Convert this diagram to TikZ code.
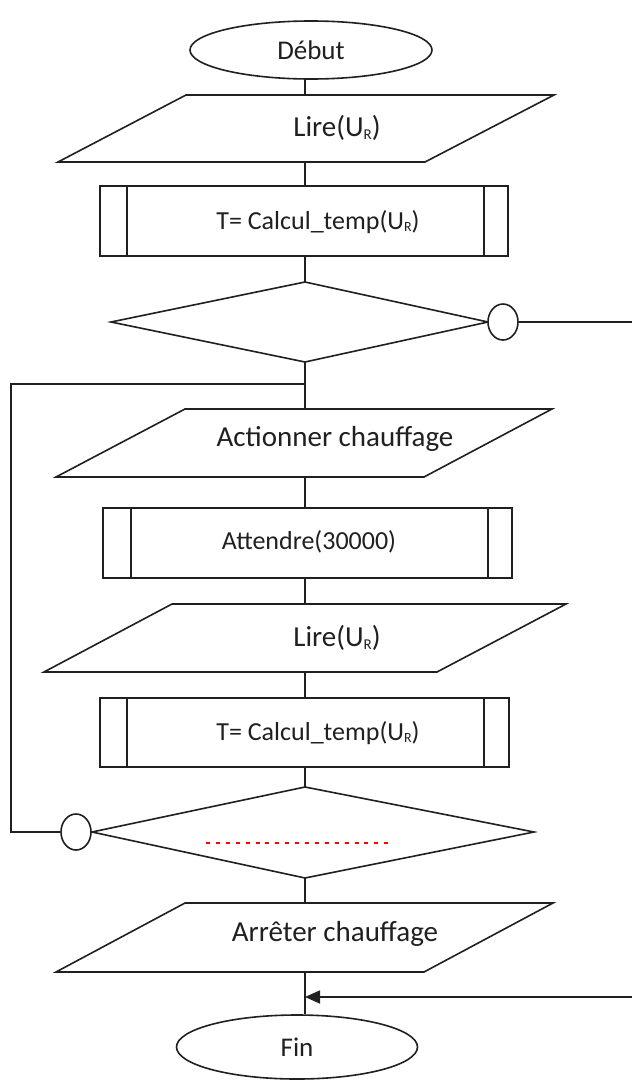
\documentclass[tikz,border=0pt]{standalone}
\usepackage{fontspec}
\setmainfont{Carlito}
\usetikzlibrary{arrows.meta,shapes.geometric,calc}
\definecolor{ink}{rgb}{0.13,0.12,0.12}
\newcommand\Rbig{\raisebox{-3pt}{\fontsize{15}{15}\selectfont R}}
\newcommand\Rmid{\raisebox{-2.5pt}{\fontsize{14}{14}\selectfont R}}
\begin{document}
\begin{tikzpicture}[x=1pt,y=-1pt,
  outline/.style={draw=ink,line width=1.6pt,line join=miter},
  conn/.style={draw=ink,line width=1.6pt},
  big/.style={font=\fontsize{29}{34}\selectfont,text=ink,inner sep=0pt},
  mid/.style={font=\fontsize{26}{31}\selectfont,text=ink,inner sep=0pt},
  term/.style={ellipse,draw=ink,line width=1.6pt,inner sep=0pt,font=\fontsize{27}{32}\selectfont,text=ink},
  subbox/.style={rectangle,draw=ink,line width=1.6pt,inner sep=0pt,minimum height=70pt},
  joint/.style={ellipse,draw=ink,line width=1.6pt,inner sep=0pt,minimum width=30pt,minimum height=36pt,fill=white}]
\fill[white] (0,0) rectangle (632,1082);
\useasboundingbox (0,0) rectangle (632,1082);

% --- Debut
\node[term,minimum width=242pt,minimum height=58pt] (debut) at (311,50) {Début};
\coordinate (s0) at (305,79);

% --- Lire 1
\coordinate (p1t) at (305,95);
\coordinate (p1b) at (305,162);
\draw[outline] (186,95) -- (554,95) -- (425,162) -- (58,162) -- cycle;
\node[big] (t1) at (337,128) {Lire(U\Rbig)};

% --- Calcul 1
\node[subbox,minimum width=408pt] (b1) at (304,221) {};
\draw[outline] ([xshift=28pt]b1.north west) -- ([xshift=28pt]b1.south west);
\draw[outline] ([xshift=-25pt]b1.north east) -- ([xshift=-25pt]b1.south east);
\node[mid] (t2) at (318,222) {T= Calcul\_temp(U\Rmid)};

% --- Decision 1
\coordinate (d1t) at (305,282);
\coordinate (d1l) at (111,322);
\coordinate (d1r) at (488,322);
\coordinate (d1b) at (305,362);
\draw[outline] (d1t) -- (d1r) -- (d1b) -- (d1l) -- cycle;
\node[joint] (c1) at (503,322) {};
\coordinate (e1) at (632,322);

% --- Actionner chauffage
\coordinate (j1) at (305,384);
\coordinate (lk) at (11,384);
\coordinate (p2t) at (305,409);
\coordinate (p2b) at (305,477);
\draw[outline] (185,409) -- (552,409) -- (424,477) -- (56,477) -- cycle;
\node[big] (t3) at (335,439) {Actionner chauffage};

% --- Attendre
\node[subbox,minimum width=409pt] (b2) at (307.5,543) {};
\draw[outline] ([xshift=29pt]b2.north west) -- ([xshift=29pt]b2.south west);
\draw[outline] ([xshift=-25pt]b2.north east) -- ([xshift=-25pt]b2.south east);
\node[mid] (t4) at (309,542) {Attendre(30000)};

% --- Lire 2
\coordinate (p3t) at (305,604);
\coordinate (p3b) at (305,672);
\draw[outline] (172,604) -- (566,604) -- (437,672) -- (44,672) -- cycle;
\node[big] (t5) at (337,638) {Lire(U\Rbig)};

% --- Calcul 2
\node[subbox,minimum width=409pt,minimum height=69pt] (b3) at (304.5,732.5) {};
\draw[outline] ([xshift=28pt]b3.north west) -- ([xshift=28pt]b3.south west);
\draw[outline] ([xshift=-26pt]b3.north east) -- ([xshift=-26pt]b3.south east);
\node[mid] (t6) at (318,733) {T= Calcul\_temp(U\Rmid)};

% --- Decision 2
\coordinate (d2t) at (305,787);
\coordinate (d2l) at (92,832);
\coordinate (d2r) at (534,832);
\coordinate (d2b) at (305,878);
\draw[outline] (d2t) -- (d2r) -- (d2b) -- (d2l) -- cycle;
\node[joint] (c2) at (76,832) {};
\coordinate (r1) at (206,843);
\coordinate (r2) at (391,843);
\draw[red,line width=2pt,dash pattern=on 4pt off 5.9pt] (r1) -- (r2);

% --- Arreter chauffage
\coordinate (p4t) at (305,903);
\coordinate (p4b) at (305,972);
\draw[outline] (185,903) -- (553,903) -- (424,972) -- (56,972) -- cycle;
\node[big] (t7) at (335,934) {Arrêter chauffage};

% --- Fin
\node[term,minimum width=241pt,minimum height=64pt] (fin) at (297,1047) {Fin};
\coordinate (e2) at (632,997);

% --- connectors
\draw[conn] (s0) -- (p1t);
\draw[conn] (p1b) -- (b1.north -| p1b);
\draw[conn] (b1.south -| p1b) -- (d1t);
\draw[conn] (d1b) -- (p2t);
\draw[conn] (j1) -- (lk) |- (c2.west);
\draw[conn] (c1.east) -- (e1);
\draw[conn] (p2b) -- (b2.north -| p2b);
\draw[conn] (b2.south -| p2b) -- (p3t);
\draw[conn] (p3b) -- (b3.north -| p3b);
\draw[conn] (b3.south -| p3b) -- (d2t);
\draw[conn] (d2b) -- (p4t);
\draw[conn] (p4b) -- (fin.north -| p4b);
\draw[conn,-{Triangle[length=15pt,width=13pt]}] (e2) -- (e2 -| p4b);
\end{tikzpicture}
\end{document}
